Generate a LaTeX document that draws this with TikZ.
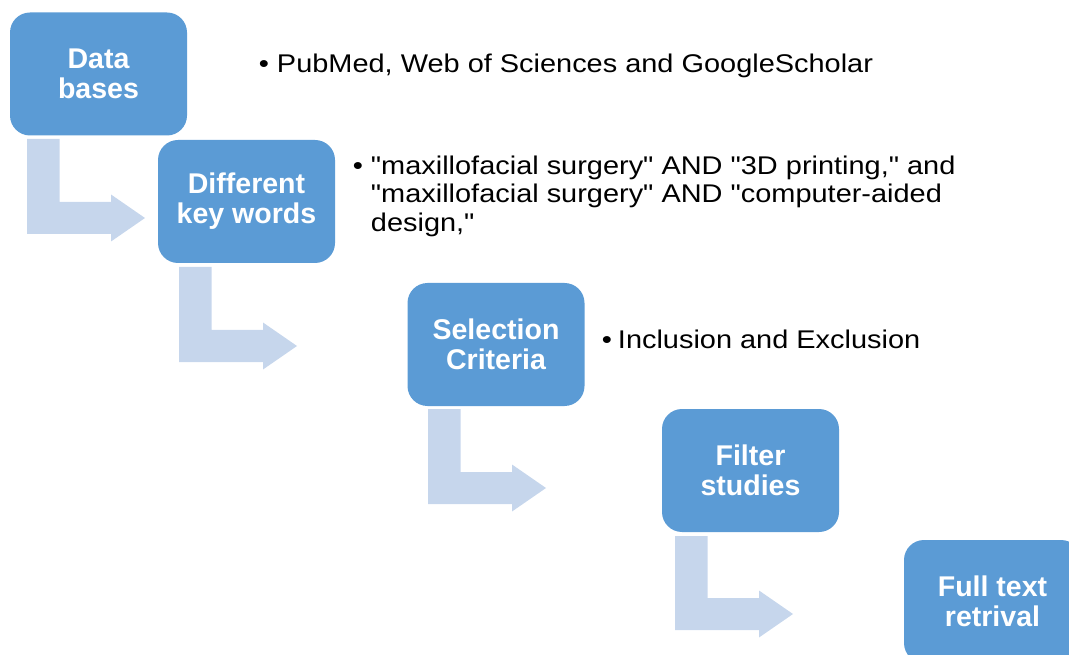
\documentclass[tikz,border=0pt]{standalone}
\usepackage{fontspec}
\setmainfont{Liberation Sans}
\newfontfamily\bulletfont[FakeStretch=1.13]{Liberation Sans}
\definecolor{boxblue}{RGB}{91,155,213}
\definecolor{arrowblue}{RGB}{198,214,236}
\newcommand\bentarrow[3]{%
  \fill[arrowblue] (#1,#2) -- ({#1+32.5},#2) -- ({#1+32.5},#3) -- ({#1+84},#3)
    -- ({#1+84},{#3-7.5}) -- ({#1+118},{#3+16}) -- ({#1+84},{#3+39.5})
    -- ({#1+84},{#3+32}) -- (#1,{#3+32}) -- cycle;}
\tikzset{
  stepbox/.style={fill=boxblue, rounded corners=15pt, minimum width=132.75pt,
    minimum height=92.25pt, text=white, inner sep=0pt, align=center,
    font=\bfseries\fontsize{21.4pt}{22.5pt}\selectfont},
  bullettext/.style={font=\bulletfont\fontsize{19.2pt}{21.4pt}\selectfont,
    inner sep=0pt, align=left, text=black}
}
\begin{document}
\begin{tikzpicture}[x=0.75pt,y=-0.75pt]
\useasboundingbox (0,0) rectangle (1069,655);
\clip (0,0) rectangle (1069,655);
% arrows
\bentarrow{27}{139}{202}
\bentarrow{179}{267}{330}
\bentarrow{428}{409}{472}
\bentarrow{675}{536}{598}
% boxes
\node[stepbox] (b1) at (98.5,74) {Data\\bases};
\node[stepbox] (b2) at (246.5,201.5) {Different\\key words};
\node[stepbox] (b3) at (496,344.5) {Selection\\Criteria};
\node[stepbox] (b4) at (750.5,470.5) {Filter\\studies};
\node[stepbox] (b5) at (992.5,601.5) {Full text\\retrival};
% bullets
\node[bullettext, anchor=base] (d1) at (264,72.3) {\textbullet};
\node[bullettext, anchor=base west] (t1) at (276.7,72.3) {PubMed, Web of Sciences and GoogleScholar};
\node[bullettext, anchor=base] (d2) at (358,174.3) {\textbullet};
\node[bullettext, anchor=base west] (t2) at (370.7,231.3) {"maxillofacial surgery" AND "3D printing," and\\"maxillofacial surgery" AND "computer-aided\\design,"};
\node[bullettext, anchor=base] (d3) at (607,348.3) {\textbullet};
\node[bullettext, anchor=base west] (t3) at (617.7,348.3) {Inclusion and Exclusion};
\end{tikzpicture}
\end{document}
